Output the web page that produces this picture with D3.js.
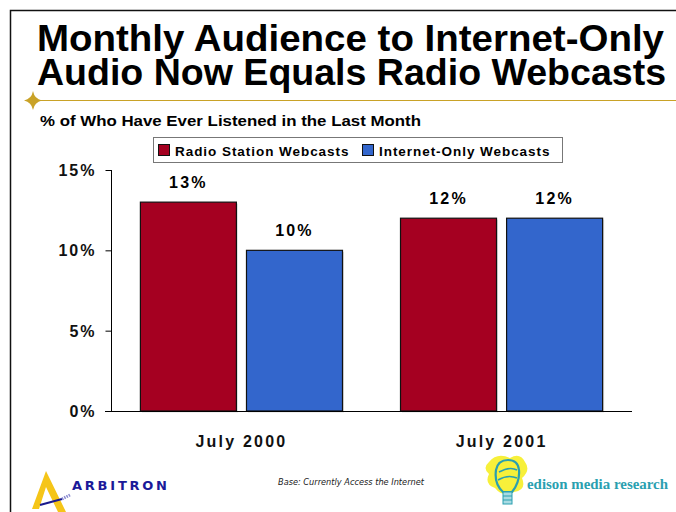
<!DOCTYPE html>
<html><head><meta charset="utf-8">
<script src="https://cdn.jsdelivr.net/npm/d3@7"></script>
<style>
html,body{margin:0;padding:0;background:#fff;}
svg{display:block;font-family:"Liberation Sans",Arial,sans-serif;}
</style></head>
<body>
<svg id="c" width="676" height="512"></svg>
<script>
const categories = ["July 2000", "July 2001"];
const seriesNames = ["Radio Station Webcasts", "Internet-Only Webcasts"];
const radioValues = [13, 12];
const internetValues = [10, 12];
const yTicks = [0, 5, 10, 15];
const titleLines = ["Monthly Audience to Internet-Only", "Audio Now Equals Radio Webcasts"];
const subtitle = "% of Who Have Ever Listened in the Last Month";
const baseNote = "Base: Currently Access the Internet";
const colors = ["#A50021", "#3366CC"];

const svg = d3.select("#c");

// slide frame
svg.append("path").attr("d","M10.5,512 V10.5 H676").attr("fill","none").attr("stroke","#111").attr("stroke-width",1.5);

// title
const titleW = [627, 629];
titleLines.forEach((t,i)=>{
  svg.append("text").attr("x",37).attr("y",51+i*34).attr("font-size",37).attr("font-weight","bold")
    .attr("textLength",titleW[i]).attr("lengthAdjust","spacingAndGlyphs").attr("fill","#000").text(t);
});

// gold rule + sparkle
svg.append("line").attr("x1",33).attr("x2",676).attr("y1",100.5).attr("y2",100.5).attr("stroke","#C9A227").attr("stroke-width",1.2);
svg.append("path").attr("d","M33,91 Q34.5,99 42,100.5 Q34.5,102 33,110 Q31.5,102 24,100.5 Q31.5,99 33,91 Z").attr("fill","#C9A227");

// subtitle
svg.append("text").attr("x",40).attr("y",126).attr("font-size",15).attr("font-weight","bold")
  .attr("textLength",381).attr("lengthAdjust","spacingAndGlyphs").text(subtitle);

// chart
const margin = {left:111, right:632, top:170, bottom:411};
const y = d3.scaleLinear().domain([0,15]).range([margin.bottom, margin.top]);
const x0 = d3.scaleBand().domain(categories).range([margin.left, margin.right]).paddingInner(0.223).paddingOuter(0.113);
const x1 = d3.scaleBand().domain(seriesNames).range([0, x0.bandwidth()]).paddingInner(0.095);

const data = categories.map((c,i)=>({cat:c, vals:[radioValues[i], internetValues[i]]}));

const g = svg.append("g");
data.forEach(d=>{
  d.vals.forEach((v,j)=>{
    const bx = x0(d.cat) + x1(seriesNames[j]);
    g.append("rect").attr("x",bx+1.5).attr("y",y(v)+1.5).attr("width",x1.bandwidth()).attr("height",y(0)-y(v)).attr("fill","#bbb").attr("opacity",0.5);
    g.append("rect").attr("x",bx).attr("y",y(v)).attr("width",x1.bandwidth()).attr("height",y(0)-y(v))
      .attr("fill",colors[j]).attr("stroke","#111").attr("stroke-width",1.2);
    g.append("text").attr("x",bx+x1.bandwidth()/2).attr("y",y(v)-14).attr("text-anchor","middle")
      .attr("font-size",16).attr("font-weight","bold").attr("letter-spacing",2.2).text(v+"%");
  });
});

// y axis
const yAxis = d3.axisLeft(y).tickValues(yTicks).tickSize(6).tickPadding(9).tickFormat(d=>d+"%");
const ya = svg.append("g").attr("transform",`translate(${margin.left}.5,0)`).call(yAxis);
ya.select(".domain").attr("d",`M0,${margin.top}V${margin.bottom}`).attr("stroke","#000");
ya.selectAll(".tick line").attr("stroke","#000");
ya.selectAll(".tick text").attr("font-size",16).attr("font-weight","bold").attr("letter-spacing",2).attr("fill","#111")
  .attr("font-family","Liberation Sans, Arial, sans-serif").attr("dy","0.35em");

// x axis
const xAxis = d3.axisBottom(x0).tickSize(0).tickPadding(24);
const xa = svg.append("g").attr("transform",`translate(0,${margin.bottom}.5)`).call(xAxis);
xa.select(".domain").attr("d",`M${margin.left-6},0H${margin.right}`).attr("stroke","#000");
xa.selectAll(".tick text").attr("font-size",16).attr("font-weight","bold").attr("letter-spacing",2.2).attr("fill","#111")
  .attr("font-family","Liberation Sans, Arial, sans-serif");

// legend
const lg = svg.append("g");
lg.append("rect").attr("x",153.5).attr("y",137.5).attr("width",409).attr("height",25).attr("fill","#fff").attr("stroke","#777").attr("stroke-width",1);
const legX = [158, 362];
seriesNames.forEach((s,j)=>{
  lg.append("rect").attr("x",legX[j]+0.5).attr("y",144.5).attr("width",11).attr("height",11).attr("fill",colors[j]).attr("stroke","#111");
  lg.append("text").attr("x",legX[j]+17).attr("y",156).attr("font-size",13.5).attr("font-weight","bold").attr("letter-spacing",0.95).text(s);
});

// footer: Arbitron logo
const ar = svg.append("g");
ar.append("path").attr("d","M32,509 L46,471 L66,512 L58,512 L46,487 L39,509 Z").attr("fill","#F5C518");
ar.append("path").attr("d","M40,505 L62,499").attr("stroke","#1a1a8c").attr("stroke-width",2);
ar.append("path").attr("d","M62,499 L70,495").attr("stroke","#8a8ad0").attr("stroke-width",3).attr("stroke-dasharray","1.5,1");
ar.append("text").attr("x",72).attr("y",490).attr("font-size",13).attr("font-weight","bold").attr("font-family","DejaVu Sans, sans-serif")
  .attr("fill","#1a1a99").attr("textLength",95).attr("lengthAdjust","spacing").text("ARBITRON");

// base note
svg.append("text").attr("x",278).attr("y",485).attr("font-size",9.5).attr("font-style","italic")
  .attr("font-family","DejaVu Sans, sans-serif").attr("fill","#222").attr("textLength",146).attr("lengthAdjust","spacingAndGlyphs").text(baseNote);

// footer: Edison logo
const ed = svg.append("g");
ed.append("path").attr("d","M489,462 Q497,452 510,458 Q520,452 525,462 Q531,470 522,478 Q527,490 514,492 Q503,498 495,488 Q484,484 489,474 Q482,468 489,462 Z").attr("fill","#F7F03A");
ed.append("path").attr("d","M503,492 Q494,484 496,470 Q498,460 508,460 Q518,460 519,470 Q520,482 512,492 Z").attr("fill","none").attr("stroke","#2a9fb0").attr("stroke-width",2.2);
ed.append("path").attr("d","M499,472 Q510,466 517,470 M498,480 Q508,474 517,478").attr("fill","none").attr("stroke","#2a9fb0").attr("stroke-width",1.5);
ed.append("rect").attr("x",503).attr("y",492).attr("width",9).attr("height",12).attr("fill","#a9dbe3").attr("stroke","#2a9fb0").attr("stroke-width",1);
ed.append("path").attr("d","M503,496 H512 M503,500 H512").attr("stroke","#2a9fb0").attr("stroke-width",1);
ed.append("text").attr("x",527).attr("y",489).attr("font-size",15).attr("font-weight","bold")
  .attr("font-family","Liberation Serif, serif").attr("fill","#2a9fb0").attr("textLength",141).attr("lengthAdjust","spacingAndGlyphs").text("edison media research");
</script>
</body></html>
